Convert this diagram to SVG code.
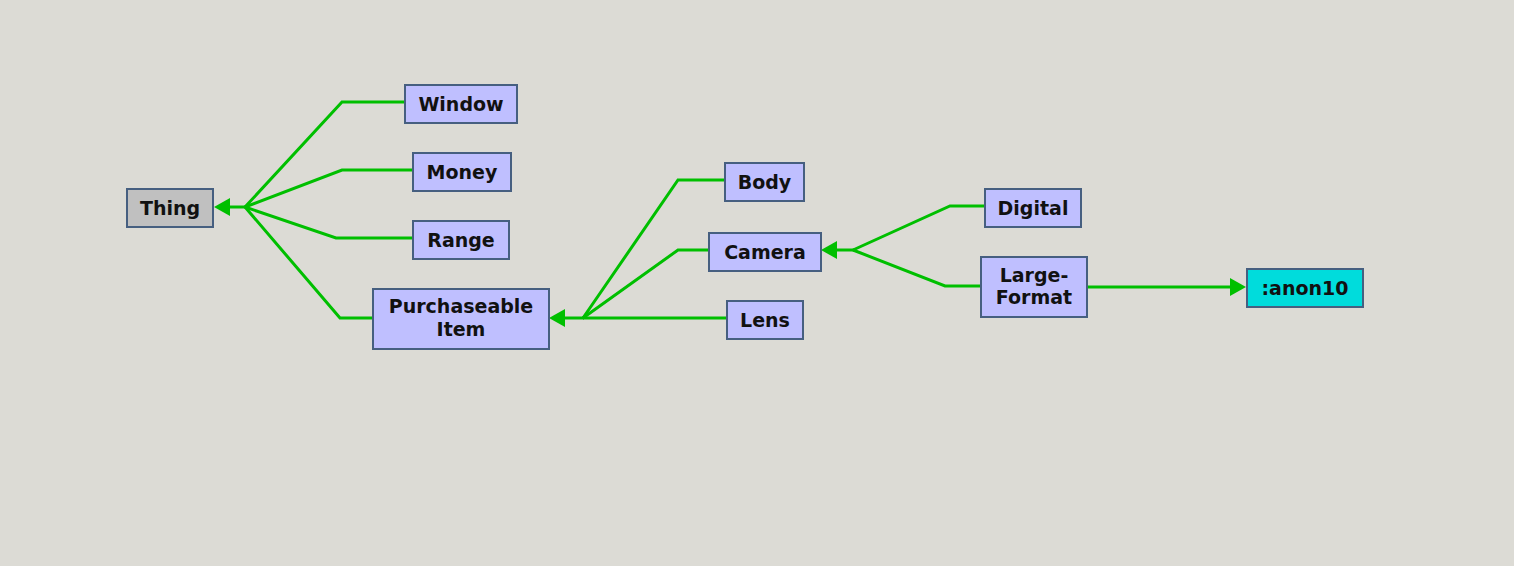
<svg xmlns="http://www.w3.org/2000/svg" width="1514" height="566" viewBox="0 0 1514 566">
<style>
.bg{fill:#dcdbd5}
.node rect{fill:#bfbfff;stroke:#465f80;stroke-width:2}
#thing rect{fill:#c0c0c0}
#anon10 rect{fill:#00dcdc}
.node text{font-family:"DejaVu Sans",sans-serif;font-weight:bold;font-size:19px;fill:#111;text-anchor:middle}
.edge{fill:none;stroke:#00bf00;stroke-width:3;stroke-linejoin:miter}
.arrow{fill:none;stroke:#00bf00;stroke-width:3;marker-end:url(#ah)}
</style>
<defs>
<marker id="ah" markerUnits="userSpaceOnUse" markerWidth="17" markerHeight="20" viewBox="0 0 17 20" refX="0" refY="10" orient="auto">
<path d="M0,1 L16,10 L0,19 z" fill="#00bf00"/>
</marker>
</defs>
<rect class="bg" x="0" y="0" width="1514" height="566"/>
<g id="connectors">
<polyline class="edge" points="404,102 342,102 245,207"/>
<polyline class="edge" points="412,170 342,170 245,207"/>
<polyline class="edge" points="412,238 336,238 245,207"/>
<polyline class="edge" points="372,318 340,318 245,207"/>
<line class="arrow" x1="246" y1="207" x2="230" y2="207"/>
<polyline class="edge" points="724,180 678,180 583,318"/>
<polyline class="edge" points="708,250 678,250 583,318"/>
<polyline class="edge" points="726,318 583,318"/>
<line class="arrow" x1="584" y1="318" x2="565" y2="318"/>
<polyline class="edge" points="984,206 950,206 853,250"/>
<polyline class="edge" points="980,286 945,286 853,250"/>
<line class="arrow" x1="854" y1="250" x2="837" y2="250"/>
<line class="arrow" x1="1087" y1="287" x2="1230" y2="287"/>
</g>
<g id="thing" class="node"><rect x="127" y="189" width="86" height="38"/><text x="170" y="215">Thing</text></g>
<g id="window" class="node"><rect x="405" y="85" width="112" height="38"/><text x="461" y="111">Window</text></g>
<g id="money" class="node"><rect x="413" y="153" width="98" height="38"/><text x="462" y="179">Money</text></g>
<g id="range" class="node"><rect x="413" y="221" width="96" height="38"/><text x="461" y="247">Range</text></g>
<g id="purchaseable" class="node"><rect x="373" y="289" width="176" height="60"/><text x="461" y="313">Purchaseable</text><text x="461" y="336">Item</text></g>
<g id="body" class="node"><rect x="725" y="163" width="79" height="38"/><text x="764.5" y="189">Body</text></g>
<g id="camera" class="node"><rect x="709" y="233" width="112" height="38"/><text x="765" y="259">Camera</text></g>
<g id="lens" class="node"><rect x="727" y="301" width="76" height="38"/><text x="765" y="327">Lens</text></g>
<g id="digital" class="node"><rect x="985" y="189" width="96" height="38"/><text x="1033" y="215">Digital</text></g>
<g id="largeformat" class="node"><rect x="981" y="257" width="106" height="60"/><text x="1034" y="282">Large-</text><text x="1034" y="304">Format</text></g>
<g id="anon10" class="node"><rect x="1247" y="269" width="116" height="38"/><text x="1305" y="295">:anon10</text></g>
</svg>
